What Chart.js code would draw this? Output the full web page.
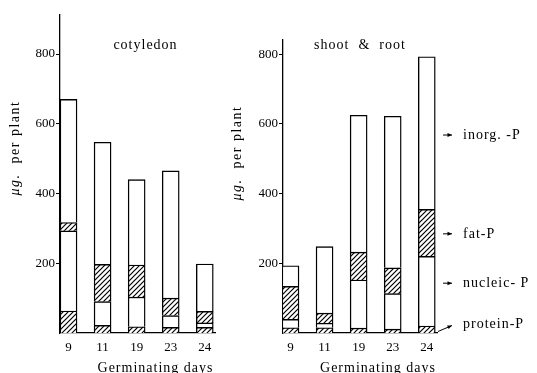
<!DOCTYPE html>
<html><head><meta charset="utf-8">
<script src="https://cdn.jsdelivr.net/npm/chart.js@4.4.1/dist/chart.umd.min.js"></script>
<style>
html,body{margin:0;padding:0;background:#fff;width:537px;height:373px;overflow:hidden}
#c1{position:absolute;left:0;top:0;width:222px;height:373px}
#c2{position:absolute;left:222px;top:0;width:315px;height:373px}
</style></head><body>
<canvas id="c1" width="222" height="373"></canvas>
<canvas id="c2" width="315" height="373"></canvas>
<script>
// ---- data (µg P per plant; thickness of each stacked layer) ----
const days = ['9', '11', '19', '23', '24'];
const layerNames = ['protein-P', 'nucleic- P', 'fat-P', 'inorg. -P'];
const yTicks = [200, 400, 600, 800];

// cotyledon
const cotProtein = [63, 22, 18, 16, 16];
const cotNucleic = [230, 68, 85, 34, 13];
const cotFat     = [24, 107, 92, 50, 33];
const cotInorg   = [353, 350, 245, 365, 136];

// shoot & root
const srProtein = [15, 15, 14, 11, 20];
const srNucleic = [24, 13, 138, 102, 200];
const srFat     = [95, 29, 80, 74, 135];
const srInorg   = [59, 191, 393, 435, 438];

const SERIF = "'Liberation Serif', 'DejaVu Serif', serif";
Chart.defaults.font.family = SERIF;
Chart.defaults.color = '#000';

function hatch(ctx) {
  const s = 5;
  const c = document.createElement('canvas');
  c.width = s; c.height = s;
  const g = c.getContext('2d');
  g.fillStyle = '#fff'; g.fillRect(0, 0, s, s);
  g.strokeStyle = '#000'; g.lineWidth = 1.2;
  g.beginPath();
  g.moveTo(0, s); g.lineTo(s, 0);
  g.moveTo(-1, 1); g.lineTo(1, -1);
  g.moveTo(s - 1, s + 1); g.lineTo(s + 1, s - 1);
  g.stroke();
  return ctx.createPattern(c, 'repeat');
}

function arrow(c, x1, y1, x2, y2) {
  c.beginPath(); c.moveTo(x1, y1); c.lineTo(x2, y2); c.stroke();
  const ang = Math.atan2(y2 - y1, x2 - x1), L = 4.5, W = 2;
  c.beginPath();
  c.moveTo(x2, y2);
  c.lineTo(x2 - L * Math.cos(ang) + W * Math.sin(ang), y2 - L * Math.sin(ang) - W * Math.cos(ang));
  c.lineTo(x2 - L * Math.cos(ang) - W * Math.sin(ang), y2 - L * Math.sin(ang) + W * Math.cos(ang));
  c.closePath(); c.fill();
}

const annot = {
  id: 'annot',
  afterDraw(chart, args, o) {
    const c = chart.ctx, a = chart.chartArea;
    c.save();
    c.fillStyle = '#000'; c.strokeStyle = '#000';
    c.textAlign = 'center'; c.textBaseline = 'middle';
    c.font = '14px ' + SERIF;
    c.letterSpacing = '1px';
    c.fillText(o.title, (a.left + a.right) / 2 + o.titleDx, 45);
    c.fillText('Germinating days', (a.left + a.right) / 2 + o.xTitleDx, 368);
    // y title with italic unit
    c.save();
    c.translate(o.yTitleX, o.yTitleY);
    c.rotate(-Math.PI / 2);
    c.letterSpacing = '1.5px';
    c.font = 'italic 14px ' + SERIF;
    const w1 = c.measureText('μg.').width;
    c.font = '14px ' + SERIF;
    const w2 = c.measureText('  per plant').width;
    const x0 = -(w1 + w2) / 2;
    c.textAlign = 'left';
    c.font = 'italic 14px ' + SERIF;
    c.fillText('μg.', x0, 0);
    c.font = '14px ' + SERIF;
    c.fillText('  per plant', x0 + w1, 0);
    c.restore();
    // legend labels (right panel), placed against the layers of the last bar
    if (o.legend) {
      const ys = chart.scales.y, last = days.length - 1;
      let lo = 0;
      c.lineWidth = 1;
      c.textAlign = 'left';
      c.font = '14px ' + SERIF;
      chart.data.datasets.forEach((ds, k) => {
        const v = ds.data[last].y;
        const y = ys.getPixelForValue(lo + v / 2) + o.legendDy[k];
        if (k === 0) {
          arrow(c, a.right + 1, ys.getPixelForValue(0) - 1.5, a.right + 15, y + 1);
        } else {
          arrow(c, a.right + 6, y, a.right + 15, y);
        }
        c.fillText(ds.label, a.right + 26, y);
        lo += v;
      });
    }
    c.restore();
  }
};

function makeDatasets(vals, pat) {
  return vals.map((arr, k) => ({
    label: layerNames[k],
    data: arr.map((v, i) => ({ x: i, y: v })),
    backgroundColor: k % 2 === 0 ? pat : '#fff',
    borderColor: '#000',
    borderWidth: 1.4,
    borderSkipped: 'start',
    barThickness: 17
  }));
}

function makeChart(id, vals, cfg) {
  const ctx = document.getElementById(id).getContext('2d');
  const pat = hatch(ctx);
  return new Chart(ctx, {
    type: 'bar',
    data: { datasets: makeDatasets(vals, pat) },
    options: {
      responsive: false, animation: false, devicePixelRatio: 1,
      layout: { padding: { top: cfg.top, right: cfg.right, left: 0, bottom: 0 } },
      plugins: { legend: { display: false }, tooltip: { enabled: false }, annot: cfg },
      scales: {
        x: {
          type: 'linear', stacked: true, min: cfg.xmin, max: 4.3, offset: false,
          grid: { display: false, drawTicks: false },
          border: { display: true, color: '#000', width: 1.3 },
          ticks: { color: '#000', font: { size: 13 }, padding: 7, autoSkip: false, maxRotation: 0,
                   callback: v => days[v] },
          afterBuildTicks: s => { s.ticks = days.map((d, i) => ({ value: i })); },
          afterFit: s => { s.height = 40; }
        },
        y: {
          type: 'linear', stacked: true, min: 0, max: cfg.ymax,
          grid: { display: true, drawOnChartArea: false, drawTicks: true, tickLength: 4, color: '#000', lineWidth: 1 },
          border: { display: true, color: '#000', width: 1.3 },
          ticks: { color: '#000', font: { size: 13 }, padding: 1 },
          afterBuildTicks: s => { s.ticks = yTicks.map(v => ({ value: v })); },
          afterFit: s => { s.width = cfg.yw; }
        }
      }
    },
    plugins: [annot]
  });
}

makeChart('c1', [cotProtein, cotNucleic, cotFat, cotInorg], {
  top: 15, right: 7, yw: 60, ymax: 912, xmin: -0.25,
  title: 'cotyledon', titleDx: 8, xTitleDx: 18, yTitleX: 15, yTitleY: 148, legend: false
});
makeChart('c2', [srProtein, srNucleic, srFat, srInorg], {
  top: 40, right: 100, yw: 61, ymax: 841, xmin: -0.22,
  title: 'shoot  &  root', titleDx: 0, xTitleDx: 18, yTitleX: 15, yTitleY: 153, legend: true,
  legendDy: [-5, -8, 1, 2]
});
</script>
</body></html>
